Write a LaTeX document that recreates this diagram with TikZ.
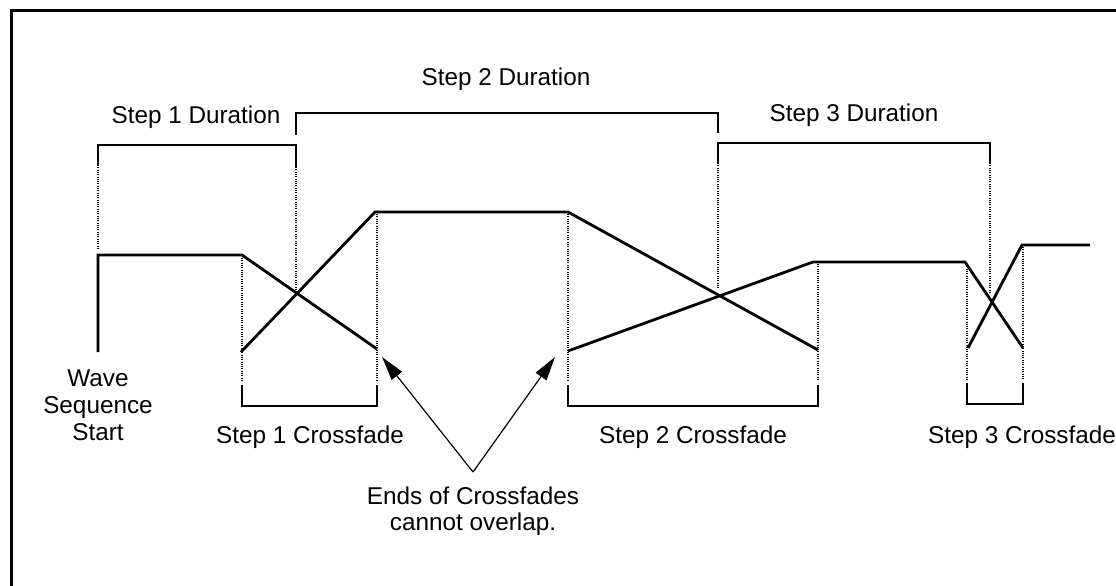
\documentclass[tikz,border=0pt]{standalone}
\usepackage{fontspec}
\setmainfont{Liberation Sans}
\usetikzlibrary{arrows.meta}

\begin{document}
\begin{tikzpicture}[x=1pt,y=-1pt,
    wave/.style={line width=2.8pt,line join=miter},
    brack/.style={line width=1.4pt},
    guide/.style={line width=1.1pt,dash pattern=on 1pt off 1.3pt},
    lbl/.style={font=\fontsize{24.3}{27}\selectfont,inner sep=0pt,align=center},
    pointer/.style={line width=1.2pt,-{Triangle[length=24pt,width=13pt]}}]
  \useasboundingbox (0,0) rectangle (1116,586);
  % frame
  \draw[line width=3pt] (1116,11) -- (11,11) -- (11,586);
  % durations
  \draw[brack] (98,165) -- (98,145) -- (296,145) -- (296,167);
  \draw[brack] (296,135) -- (296,113) -- (718,113) -- (718,133);
  \draw[brack] (718,163) -- (718,143) -- (990,143) -- (990,163);
  \node[lbl] (d1) at (196,117) {Step 1 Duration};
  \node[lbl] (d2) at (506,79) {Step 2 Duration};
  \node[lbl] (d3) at (854,115) {Step 3 Duration};
  \draw[guide] (98,165) -- (98,249);
  \draw[guide] (296,167) -- (296,292);
  \draw[guide] (718,163) -- (718,289);
  \draw[guide] (990,163) -- (990,294);
  % the four waves
  \draw[wave] (98,352) -- (98,255) -- (242,255) -- (377,349);
  \draw[wave] (241,352) -- (375,212) -- (568,212) -- (818,350);
  \draw[wave] (568,351) -- (813,262) -- (965,262) -- (1023,348);
  \draw[wave] (968,348) -- (1022,245) -- (1090,245);
  % crossfades
  \draw[guide] (242,258) -- (242,380);
  \draw[guide] (377,214) -- (377,380);
  \draw[guide] (568,214) -- (568,380);
  \draw[guide] (818,264) -- (818,380);
  \draw[guide] (967,264) -- (967,380);
  \draw[guide] (1023,247) -- (1023,380);
  \draw[brack] (242,385) -- (242,406) -- (377,406) -- (377,385);
  \draw[brack] (568,385) -- (568,406) -- (818,406) -- (818,385);
  \draw[brack] (967,383) -- (967,404) -- (1023,404) -- (1023,383);
  \node[lbl] (c1) at (310,437) {Step 1 Crossfade};
  \node[lbl] (c2) at (693,437) {Step 2 Crossfade};
  \node[lbl] (c3) at (1022,437) {Step 3 Crossfade};
  \node[lbl] (start) at (98,405) {Wave\\Sequence\\Start};
  % note
  \node[lbl,font=\fontsize{24.3}{26}\selectfont] (ends) at (473,511) {Ends of Crossfades\\cannot overlap.};
  \coordinate (apex) at (473,472);
  \coordinate (tipA) at (382,357);
  \coordinate (tipB) at (555,357);
  \draw[pointer] (apex) -- (tipA);
  \draw[pointer] (apex) -- (tipB);
\end{tikzpicture}
\end{document}
